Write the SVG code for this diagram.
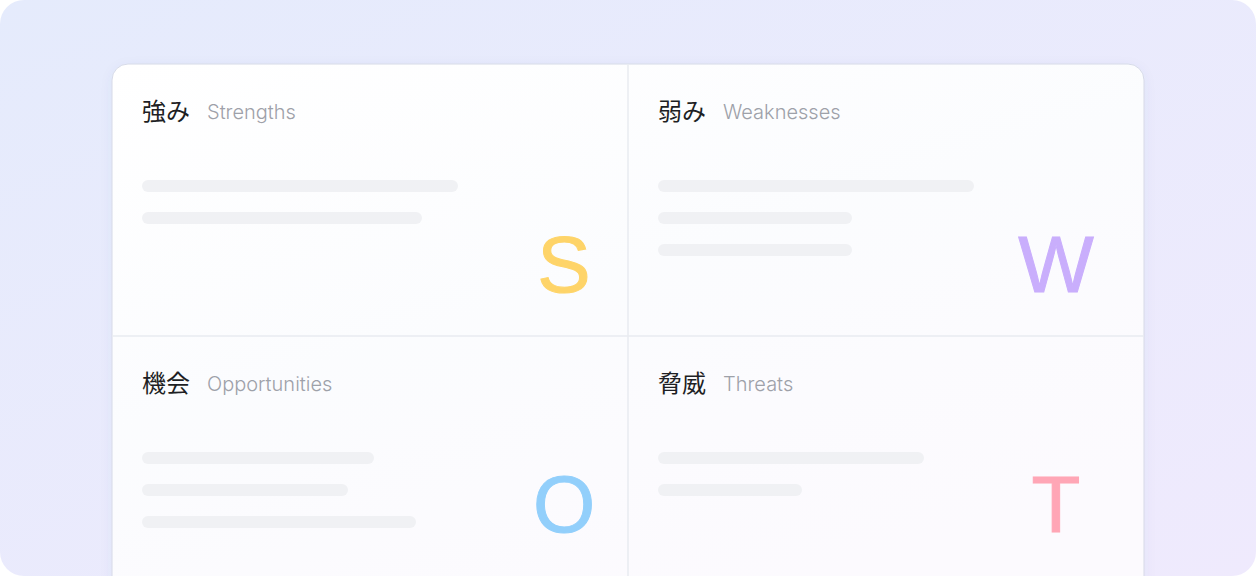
<svg xmlns="http://www.w3.org/2000/svg" width="1256" height="576" viewBox="0 0 1256 576">
  <defs>
    <linearGradient id="bg" x1="0" y1="0" x2="1" y2="1">
      <stop offset="0" stop-color="#E5EBFC"/>
      <stop offset="1" stop-color="#EFEAFD"/>
    </linearGradient>
    <linearGradient id="card" x1="0" y1="0" x2="0.6" y2="1">
      <stop offset="0" stop-color="#FFFFFF"/>
      <stop offset="0.5" stop-color="#FBFCFE"/>
      <stop offset="1" stop-color="#FCFAFE"/>
    </linearGradient>
    <filter id="shadow" x="-10%" y="-10%" width="120%" height="130%">
      <feDropShadow dx="0" dy="3" stdDeviation="6" flood-color="#4A5AA0" flood-opacity="0.06"/>
    </filter>
  </defs>
  <style>
    .jp { font-family: "Noto Sans CJK JP", "Noto Sans", sans-serif; font-size: 24px; fill: #1E1F24; }
    .en { font-family: "Inter", "Liberation Sans", sans-serif; font-size: 20px; font-weight: 300; fill: #9EA1A9; }
    .big { font-family: "Liberation Sans", Arial, sans-serif; font-size: 80px; text-anchor: middle; stroke-width: 1; }
    .bar { fill: #F0F1F4; }
    .div { stroke: #E9EBF0; stroke-width: 1.5; }
  </style>
  <rect x="0" y="0" width="1256" height="576" rx="24" fill="url(#bg)"/>
  <rect x="112" y="64" width="1032" height="540" rx="16" fill="url(#card)" stroke="#D6DAE8" stroke-width="1" filter="url(#shadow)"/>
  <g id="dividers">
    <line class="div" x1="628" y1="64.5" x2="628" y2="576"/>
    <line class="div" x1="112.5" y1="336" x2="1143.5" y2="336"/>
  </g>
  <g id="strengths">
    <text class="jp" x="142" y="120">強み</text>
    <text class="en" x="207" y="119">Strengths</text>
    <rect class="bar" x="142" y="180" width="316" height="12" rx="6"/>
    <rect class="bar" x="142" y="212" width="280" height="12" rx="6"/>
    <text class="big" x="564" y="292" fill="#FED469" stroke="#FED469">S</text>
  </g>
  <g id="weaknesses">
    <text class="jp" x="658" y="120">弱み</text>
    <text class="en" x="723" y="119">Weaknesses</text>
    <rect class="bar" x="658" y="180" width="316" height="12" rx="6"/>
    <rect class="bar" x="658" y="212" width="194" height="12" rx="6"/>
    <rect class="bar" x="658" y="244" width="194" height="12" rx="6"/>
    <text class="big" x="1056" y="292" fill="#C9AEFC" stroke="#C9AEFC">W</text>
  </g>
  <g id="opportunities">
    <text class="jp" x="142" y="392">機会</text>
    <text class="en" x="207" y="391">Opportunities</text>
    <rect class="bar" x="142" y="452" width="232" height="12" rx="6"/>
    <rect class="bar" x="142" y="484" width="206" height="12" rx="6"/>
    <rect class="bar" x="142" y="516" width="274" height="12" rx="6"/>
    <text class="big" x="564" y="532" fill="#92CFFB" stroke="#92CFFB">O</text>
  </g>
  <g id="threats">
    <text class="jp" x="658" y="392">脅威</text>
    <text class="en" x="723" y="391">Threats</text>
    <rect class="bar" x="658" y="452" width="266" height="12" rx="6"/>
    <rect class="bar" x="658" y="484" width="144" height="12" rx="6"/>
    <text class="big" x="1056" y="532" fill="#FFA6B6" stroke="#FFA6B6">T</text>
  </g>
</svg>
